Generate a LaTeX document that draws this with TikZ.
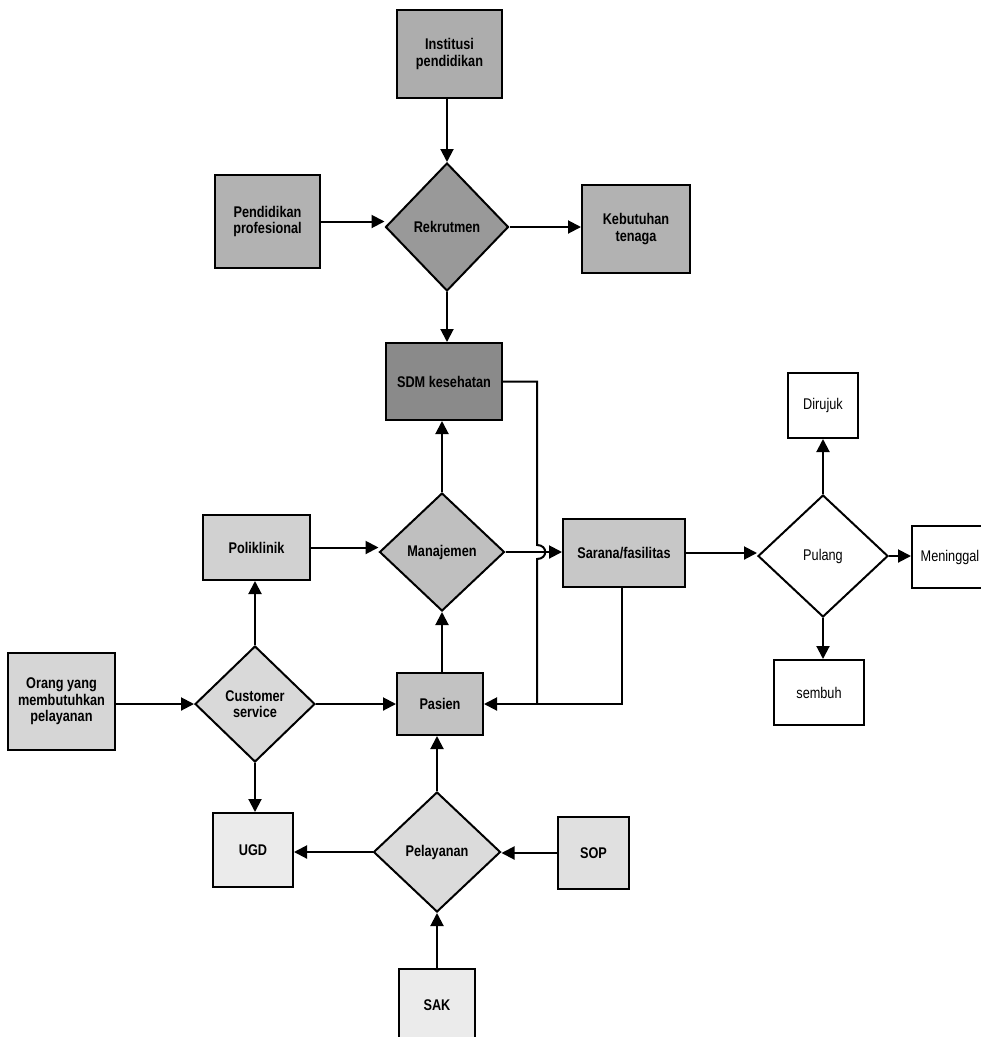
\documentclass[tikz,border=0pt]{standalone}
\usepackage{fontspec}
\setmainfont[FakeStretch=0.82]{Liberation Sans}
\usetikzlibrary{shapes.geometric,arrows.meta}
\begin{document}
\begin{tikzpicture}[x=1pt,y=-1pt,
  lw/.style={line width=2pt},
  txt/.style={font=\fontsize{15.5}{16.5}\selectfont\bfseries},
  box/.style={draw,lw,rectangle,inner sep=1pt,align=center,txt},
  dia/.style={draw,lw,diamond,inner sep=0pt,align=center,txt},
  plain/.style={font=\fontsize{15.5}{16.5}\selectfont},
  arr/.style={lw,-{Triangle[length=13pt,width=13pt]}},
  ln/.style={lw}]
\useasboundingbox (0,0) rectangle (981,1037);

% recruitment block
\node[box,fill=black!32,minimum width=105,minimum height=88] (inst) at (449.5,54) {Institusi\\pendidikan};
\node[dia,fill=black!40,minimum width=123,minimum height=128] (rek) at (447,227) {Rekrutmen};
\node[box,fill=black!30,minimum width=105,minimum height=93] (pend) at (267.5,221.5) {Pendidikan\\profesional};
\node[box,fill=black!30,minimum width=108,minimum height=88] (keb) at (636,229) {Kebutuhan\\tenaga};
\node[box,fill=black!46,minimum width=116,minimum height=77] (sdm) at (444,381.5) {SDM kesehatan};

% management and service
\node[dia,fill=black!25,minimum width=125,minimum height=118] (man) at (442,552) {Manajemen};
\node[box,fill=black!18,minimum width=107,minimum height=65] (poli) at (256.5,547.5) {Poliklinik};
\node[box,fill=black!22,minimum width=122,minimum height=68] (sar) at (624,553) {Sarana/fasilitas};
\node[dia,fill=black!15,minimum width=120,minimum height=116] (cs) at (255,704) {Customer\\service};
\node[box,fill=black!16,minimum width=107,minimum height=97] (orang) at (61.5,701.5) {Orang yang\\membutuhkan\\pelayanan};
\node[box,fill=black!24,minimum width=86,minimum height=62] (pas) at (440,704) {Pasien};
\node[box,fill=black!8,minimum width=80,minimum height=74] (ugd) at (253,850) {UGD};
\node[dia,fill=black!14,minimum width=127,minimum height=120] (pel) at (437,852) {Pelayanan};
\node[box,fill=black!12,minimum width=71,minimum height=72] (sop) at (593.5,853) {SOP};
\node[box,fill=black!8,minimum width=76,minimum height=72] (sak) at (437,1005) {SAK};

% discharge
\node[dia,fill=white,plain,minimum width=130,minimum height=122] (pul) at (823,556) {Pulang};
\node[box,fill=white,plain,minimum width=70,minimum height=65] (dir) at (823,405.5) {Dirujuk};
\node[box,fill=white,plain,minimum width=76,minimum height=62,inner sep=0pt] (men) at (950,557) {Meninggal};
\node[box,fill=white,plain,minimum width=90,minimum height=65] (sem) at (819,692.5) {sembuh};

% connectors
\draw[arr] (rek.north |- inst.south) -- (rek.north);
\draw[arr] (pend.east) -- (pend.east -| rek.west);
\draw[arr] (rek.east) -- (rek.east -| keb.west);
\draw[arr] (rek.south) -- (rek.south |- sdm.north);
\draw[arr] (man.north) -- (man.north |- sdm.south);
\draw[arr] (poli.east) -- (poli.east -| man.west);
\draw[arr] (man.east) -- (man.east -| sar.west);
\draw[arr] (sar.east) -- (sar.east -| pul.west);
\draw[arr] (pul.north) -- (pul.north |- dir.south);
\draw[arr] (pul.east) -- (pul.east -| men.west);
\draw[arr] (pul.south) -- (pul.south |- sem.north);
\draw[arr] (orang.east |- cs.west) -- (cs.west);
\draw[arr] (cs.north) -- (cs.north |- poli.south);
\draw[arr] (cs.east) -- (cs.east -| pas.west);
\draw[arr] (cs.south) -- (cs.south |- ugd.north);
\draw[arr] (pas.north -| man.south) -- (man.south);
\draw[arr] (pel.north) -- (pel.north |- pas.south);
\draw[arr] (pel.west) -- (pel.west -| ugd.east);
\draw[arr] (sop.west) -- (sop.west -| pel.east);
\draw[arr] (sak.north) -- (pel.south);

% feedback to the patient, hopping over the management line
\coordinate (fb1) at (537,381.5);
\coordinate (hopA) at (537,545);
\coordinate (hopB) at (537,559);
\coordinate (fb2) at (537,704);
\coordinate (sar1) at (622,704);
\draw[ln] (sdm.east) -- (fb1) -- (hopA) .. controls (548,545) and (548,559) .. (hopB) -- (fb2);
\draw[ln] (sar.south -| sar1) -- (sar1) -- (fb2);
\draw[arr] (fb2) -- (pas.east);
\end{tikzpicture}
\end{document}
